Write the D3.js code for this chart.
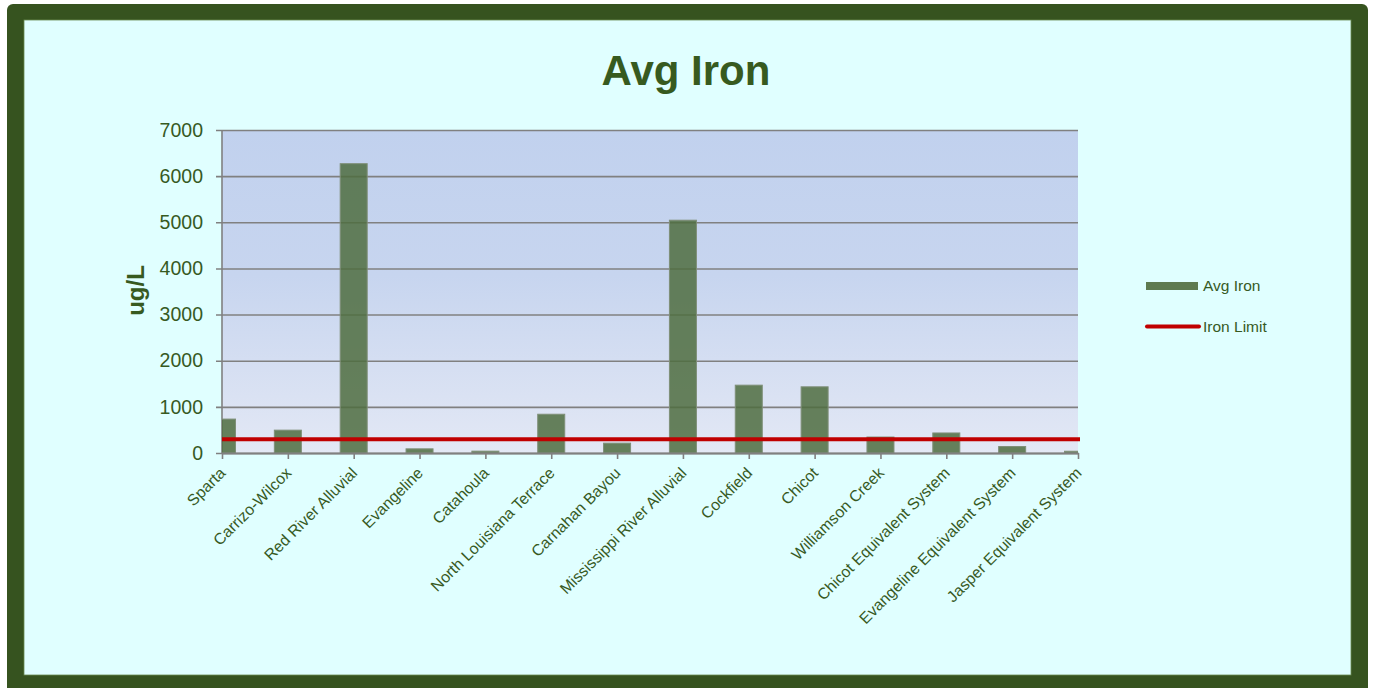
<!DOCTYPE html>
<html>
<head>
<meta charset="utf-8">
<script src="https://cdn.jsdelivr.net/npm/d3@7"></script>
<style>
  html, body { margin: 0; padding: 0; background: #ffffff; }
  svg { display: block; font-family: Arial, "Liberation Sans", sans-serif; }
</style>
</head>
<body>
<svg id="chart" width="1373" height="688"></svg>
<script>
const categories = ['Sparta', 'Carrizo-Wilcox', 'Red River Alluvial', 'Evangeline', 'Catahoula',
  'North Louisiana Terrace', 'Carnahan Bayou', 'Mississippi River Alluvial', 'Cockfield', 'Chicot',
  'Williamson Creek', 'Chicot Equivalent System', 'Evangeline Equivalent System', 'Jasper Equivalent System']
const avgIron = [735, 495, 6270, 90, 40, 840, 213, 5045, 1470, 1434, 346, 434, 140, 38]
const ironLimit = 300
const yTicks = [0, 1000, 2000, 3000, 4000, 5000, 6000, 7000]

const svg = d3.select('#chart')
const textColor = '#375a1f'
const frameColor = '#36531f'
const barColor = '#4f6d3f'

// frame
svg.append('rect')
  .attr('x', 7).attr('y', 4).attr('width', 1361).attr('height', 690)
  .attr('rx', 6)
  .attr('fill', frameColor)
svg.append('rect')
  .attr('x', 24).attr('y', 20).attr('width', 1327).attr('height', 655)
  .attr('fill', '#e0ffff')
  .attr('stroke', '#6a8a50').attr('stroke-width', 0.8)

const plotLeft = 222, plotRight = 1078, plotTop = 130, plotBottom = 453

const x = d3.scalePoint().domain(categories).range([plotLeft, plotRight])
const y = d3.scaleLinear().domain([0, 7000]).range([plotBottom, plotTop])

const defs = svg.append('defs')
const grad = defs.append('linearGradient').attr('id', 'plotbg')
  .attr('x1', 0).attr('y1', 0).attr('x2', 0).attr('y2', 1)
grad.append('stop').attr('offset', '0%').attr('stop-color', '#c1d1ee')
grad.append('stop').attr('offset', '45%').attr('stop-color', '#c7d5ef')
grad.append('stop').attr('offset', '100%').attr('stop-color', '#e3e8f5')
defs.append('clipPath').attr('id', 'plotclip')
  .append('rect').attr('x', plotLeft).attr('y', plotTop - 2)
  .attr('width', plotRight - plotLeft).attr('height', plotBottom - plotTop + 4)

svg.append('rect')
  .attr('x', plotLeft).attr('y', plotTop).attr('width', plotRight - plotLeft).attr('height', plotBottom - plotTop)
  .attr('fill', 'url(#plotbg)')

// y axis with gridlines
const yAxis = d3.axisLeft(y).tickValues(yTicks).tickFormat(d3.format('d'))
  .tickSize(-(plotRight - plotLeft)).tickPadding(19)
const gy = svg.append('g').attr('transform', `translate(${plotLeft},0)`).call(yAxis)
gy.select('path.domain').remove()
gy.selectAll('.tick line').attr('stroke', '#808080').attr('stroke-width', 1.6).attr('x1', -6)
gy.selectAll('.tick text')
  .attr('fill', textColor).style('font-size', '19.5px')
  .attr('font-family', 'Arial, "Liberation Sans", sans-serif')

// left axis line
svg.append('line')
  .attr('x1', plotLeft).attr('x2', plotLeft).attr('y1', plotTop).attr('y2', plotBottom)
  .attr('stroke', '#808080').attr('stroke-width', 1.6)

// bars
const bw = 27
svg.append('g').attr('clip-path', 'url(#plotclip)')
  .selectAll('rect.bar')
  .data(categories)
  .enter()
  .append('rect')
    .attr('class', 'bar')
    .attr('x', d => x(d) - bw / 2)
    .attr('y', (d, i) => y(avgIron[i]))
    .attr('width', bw)
    .attr('height', (d, i) => y(0) - y(avgIron[i]))
    .attr('fill', barColor)
    .attr('fill-opacity', 0.85)
    .attr('stroke', '#7f8f78')
    .attr('stroke-width', 1)

// x axis
const xAxis = d3.axisBottom(x).tickSize(6).tickSizeOuter(0)
const gx = svg.append('g').attr('transform', `translate(0,${plotBottom})`).call(xAxis)
gx.select('path.domain').attr('stroke', '#808080').attr('stroke-width', 2)
gx.selectAll('.tick line').attr('stroke', '#808080').attr('stroke-width', 1.6)
gx.selectAll('.tick text')
  .attr('fill', textColor).style('font-size', '15.8px')
  .attr('font-family', 'Arial, "Liberation Sans", sans-serif')
  .attr('text-anchor', 'end')
  .attr('x', 0).attr('y', 0).attr('dy', 0)
  .attr('transform', 'translate(4,21) rotate(-45)')

// iron limit line
svg.append('line')
  .attr('x1', plotLeft).attr('x2', plotRight + 2)
  .attr('y1', y(ironLimit)).attr('y2', y(ironLimit))
  .attr('stroke', '#c00000').attr('stroke-width', 4)

// title
svg.append('text')
  .attr('x', 686).attr('y', 85)
  .attr('text-anchor', 'middle')
  .style('font-size', '42px').style('font-weight', 'bold')
  .attr('fill', textColor)
  .text('Avg Iron')

// y label
svg.append('text')
  .attr('transform', `translate(144, ${(plotTop + plotBottom) / 2 - 1}) rotate(-90)`)
  .attr('text-anchor', 'middle')
  .style('font-size', '24px').style('font-weight', 'bold')
  .attr('fill', textColor)
  .text('ug/L')

// legend
const legend = svg.append('g')
legend.append('line').attr('x1', 1146).attr('x2', 1198).attr('y1', 286).attr('y2', 286)
  .attr('stroke', '#5e7a50').attr('stroke-width', 8)
legend.append('line').attr('x1', 1147).attr('x2', 1199).attr('y1', 326.5).attr('y2', 326.5)
  .attr('stroke', '#c00000').attr('stroke-width', 4).attr('stroke-linecap', 'round')
legend.append('text').attr('x', 1203).attr('y', 291).text('Avg Iron')
  .style('font-size', '15.5px').attr('fill', textColor)
legend.append('text').attr('x', 1203).attr('y', 332).text('Iron Limit')
  .style('font-size', '15.5px').attr('fill', textColor)
</script>
</body>
</html>
